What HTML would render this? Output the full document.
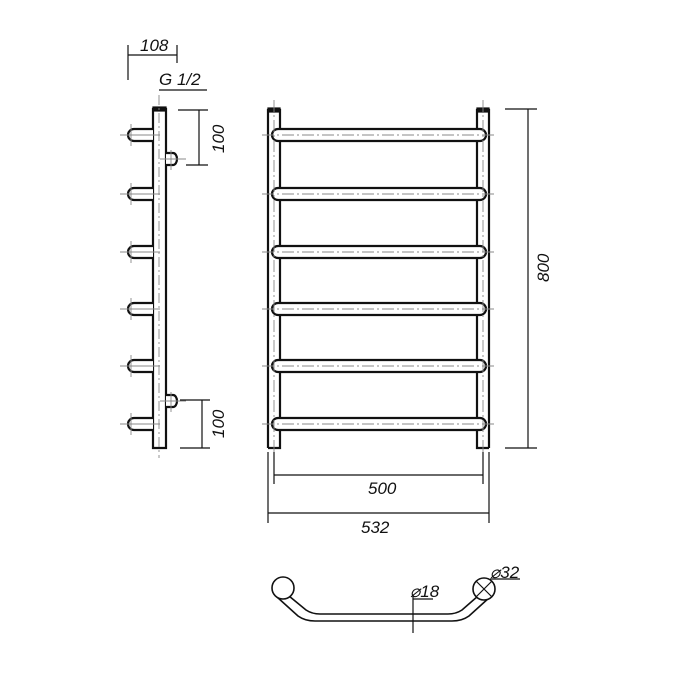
<!DOCTYPE html>
<html><head><style>body{margin:0;background:#fff}svg{display:block}text{font-family:"Liberation Sans",sans-serif;font-style:italic;font-size:17px;fill:#111}</style></head>
<body>
<svg width="700" height="700" viewBox="0 0 700 700">
<g fill="none" stroke="#111" stroke-width="1.2">
<g id="bars" stroke-width="2.2" fill="#fff">
<rect x="272" y="129" width="214" height="12" rx="6"/>
<rect x="272" y="188" width="214" height="12" rx="6"/>
<rect x="272" y="246" width="214" height="12" rx="6"/>
<rect x="272" y="303" width="214" height="12" rx="6"/>
<rect x="272" y="360" width="214" height="12" rx="6"/>
<rect x="272" y="418" width="214" height="12" rx="6"/>
</g>
<g stroke-width="2.2">
<path d="M268 448 V110 H280 V129 M280 141 V188 M280 200 V246 M280 258 V303 M280 315 V360 M280 372 V418 M280 430 V448 H268"/>
<path d="M489 448 V110 H477 V129 M477 141 V188 M477 200 V246 M477 258 V303 M477 315 V360 M477 372 V418 M477 430 V448 H489"/>
</g>
<rect x="268" y="108" width="12" height="4" fill="#111"/>
<rect x="477" y="108" width="12" height="4" fill="#111"/>
<g stroke="#888" stroke-width="0.9" stroke-dasharray="12 3 2 3">
<line x1="274" y1="100" x2="274" y2="456"/><line x1="483" y1="100" x2="483" y2="456"/>
<line x1="262" y1="135" x2="494" y2="135"/><line x1="262" y1="194" x2="494" y2="194"/>
<line x1="262" y1="252" x2="494" y2="252"/><line x1="262" y1="309" x2="494" y2="309"/>
<line x1="262" y1="366" x2="494" y2="366"/><line x1="262" y1="424" x2="494" y2="424"/>
</g>
<path d="M274 452 V484 M483 452 V484 M274 475 H483"/>
<path d="M268 452 V523 M489 452 V523 M268 513 H489"/>
<path d="M505 109 H537 M505 448 H537 M528 109 V448"/>
<g stroke-width="2.2">
<path d="M153 448 V109 H166 V448 Z" fill="#fff"/>
</g>
<rect x="153" y="107" width="13" height="4" fill="#111"/>
<g stroke-width="2.2" fill="#fff">
<path d="M153 129 H134 A6 6 0 0 0 134 141 H153"/>
<path d="M153 188 H134 A6 6 0 0 0 134 200 H153"/>
<path d="M153 246 H134 A6 6 0 0 0 134 258 H153"/>
<path d="M153 303 H134 A6 6 0 0 0 134 315 H153"/>
<path d="M153 360 H134 A6 6 0 0 0 134 372 H153"/>
<path d="M153 418 H134 A6 6 0 0 0 134 430 H153"/>
<path d="M166 153 H173 A4 6 0 0 1 173 165 H166"/>
<path d="M166 395 H173 A4 6 0 0 1 173 407 H166"/>
</g>
<g stroke="#888" stroke-width="0.9">
<line x1="159" y1="95" x2="159" y2="458" stroke-dasharray="10 3 2 3"/>
<path d="M120 135 H160 M131 124 V146 M120 194 H160 M131 183 V205 M120 252 H160 M131 241 V263 M120 309 H160 M131 298 V320 M120 366 H160 M131 355 V377 M120 424 H160 M131 413 V435"/>
<path d="M160 159 H186 M171 150 V170 M160 401 H186 M171 392 V412"/>
</g>
<path d="M178 110 H208 M199 110 V165 M186 165 H208"/>
<path d="M180 400 H210 M202 400 V448 M180 448 H210"/>
<path d="M128 45 V80 M177 45 V63 M128 55 H177"/>
<path d="M159 90 H207"/>
<path d="M289 596 L306 610 Q312 614 320 614 H448 Q456 614 462 610 L478 596" stroke-width="1.6"/>
<path d="M277 597 L298 616 Q305 621 315 621 H452 Q462 621 469 616 L490 597" stroke-width="1.6"/>
<circle cx="283" cy="588" r="11" fill="#fff" stroke-width="1.6"/>
<circle cx="484" cy="589" r="11" fill="#fff" stroke-width="1.6"/>
<path d="M476 581 L492 597 M492 581 L476 597"/>
<path d="M413 595 V633 M413 599 H433"/>
<path d="M490 579 H520"/>
</g>
<text x="368" y="494">500</text>
<text x="361" y="533">532</text>
<text transform="translate(549 282) rotate(-90)">800</text>
<text x="140" y="51">108</text>
<text x="159" y="85">G 1/2</text>
<text transform="translate(224 153) rotate(-90)">100</text>
<text transform="translate(224 438) rotate(-90)">100</text>
<text x="410" y="597">⌀18</text>
<text x="490" y="578">⌀32</text>
</svg>
</body></html>
